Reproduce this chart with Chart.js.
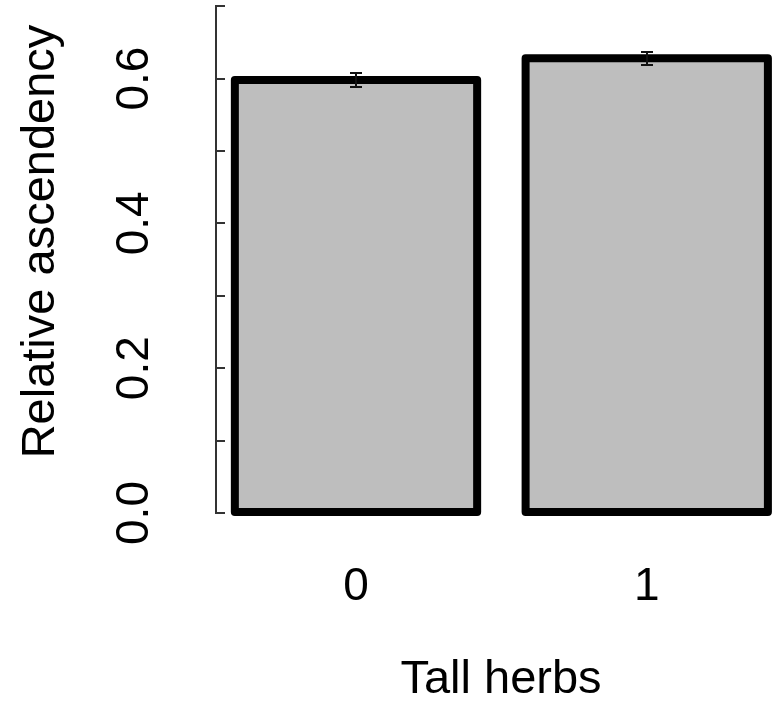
<!DOCTYPE html>
<html><head><meta charset="utf-8">
<script src="https://cdn.jsdelivr.net/npm/chart.js@4/dist/chart.umd.min.js"></script>
<style>html,body{margin:0;padding:0;background:#fff;overflow:hidden;width:782px;height:708px}
#c{display:block;width:786px;height:738px;margin-top:-30px}</style>
</head><body>
<canvas id="c" width="786" height="738"></canvas>
<script>
// ---- data ----
const categories = ['0', '1'];
const means = [0.598, 0.628];
const stdErrors = [0.010, 0.009];
const yTickValues = [0, 0.1, 0.2, 0.3, 0.4, 0.5, 0.6, 0.7];
const yTickLabels = ['0.0', '', '0.2', '', '0.4', '', '0.6', ''];
const xTitle = 'Tall herbs';
const yTitle = 'Relative ascendency';

// ---- layout (R barplot style: width 1, space 0.2) ----
const FONT = '"Liberation Sans", Arial, Helvetica, sans-serif';
const barSlots = categories.map((c, i) => 0.7 + 1.2 * i);

const rPlot = {
  id: 'rPlot',
  afterDatasetsDraw(chart) {
    const ctx = chart.ctx;
    const ys = chart.scales.y;
    const meta = chart.getDatasetMeta(0);
    ctx.save();
    // bar outlines (centred on the bar edges, like R's rect border)
    ctx.strokeStyle = '#000';
    ctx.lineWidth = 8;
    ctx.lineJoin = 'round';
    meta.data.forEach(bar => {
      const p = bar.getProps(['x', 'y', 'base', 'width'], true);
      ctx.strokeRect(p.x - p.width / 2, p.y, p.width, p.base - p.y);
    });
    // error bars
    ctx.lineWidth = 2;
    ctx.strokeStyle = '#111';
    ctx.lineJoin = 'miter';
    meta.data.forEach((bar, i) => {
      const x = Math.round(bar.x);
      const hi = Math.round(ys.getPixelForValue(means[i] + stdErrors[i]));
      const lo = Math.round(ys.getPixelForValue(means[i] - stdErrors[i]));
      ctx.beginPath();
      ctx.moveTo(x, hi); ctx.lineTo(x, lo);
      ctx.moveTo(x - 6, hi); ctx.lineTo(x + 6, hi);
      ctx.moveTo(x - 6, lo); ctx.lineTo(x + 6, lo);
      ctx.stroke();
    });
    // y axis line from first to last tick
    const ax = Math.round(chart.chartArea.left);
    ctx.strokeStyle = '#333';
    ctx.lineWidth = 2;
    ctx.beginPath();
    ctx.moveTo(ax, Math.round(ys.getPixelForValue(yTickValues[yTickValues.length - 1])) - 1);
    ctx.lineTo(ax, Math.round(ys.getPixelForValue(yTickValues[0])) + 1);
    ctx.stroke();
    ctx.restore();
  }
};

new Chart(document.getElementById('c'), {
  type: 'bar',
  data: {
    datasets: [{
      data: means.map((m, i) => ({x: barSlots[i], y: m})),
      backgroundColor: '#BEBEBE',
      borderWidth: 0,
      barPercentage: 1 / 1.2,
      categoryPercentage: 1
    }]
  },
  options: {
    responsive: false,
    animation: false,
    devicePixelRatio: 1,
    layout: {padding: 0},
    plugins: {legend: {display: false}, tooltip: {enabled: false}},
    scales: {
      x: {
        type: 'linear', min: 0.1222, max: 2.4747, offset: false,
        grid: {display: false, drawTicks: false},
        border: {display: false},
        afterBuildTicks: s => { s.ticks = barSlots.map(v => ({value: v})); },
        ticks: {autoSkip: false, maxRotation: 0, padding: 47, color: '#000',
                font: {family: FONT, size: 46},
                callback: (v, i) => categories[i]},
        title: {display: true, text: xTitle, color: '#000',
                font: {family: FONT, size: 47}, padding: {top: 0, bottom: 0}},
        afterFit: s => { s.height = 195; s.paddingLeft = 0; s.paddingRight = 0; }
      },
      y: {
        type: 'linear', min: 0, max: 0.75, position: 'left',
        afterBuildTicks: s => { s.ticks = yTickValues.map(v => ({value: v})); },
        grid: {drawOnChartArea: false, drawTicks: true, tickLength: -9, color: '#333', lineWidth: 2},
        border: {display: false},
        ticks: {autoSkip: false, minRotation: 90, maxRotation: 90, crossAlign: 'center',
                padding: 58, color: '#000', font: {family: FONT, size: 46},
                callback: (v, i) => yTickLabels[i]},
        title: {display: true, text: yTitle, color: '#000',
                font: {family: FONT, size: 47}, padding: {top: 13, bottom: 0}},
        afterFit: s => { s.width = 216; s.paddingTop = 0; s.paddingBottom = 0; }
      }
    }
  },
  plugins: [rPlot]
});
</script>
</body></html>
